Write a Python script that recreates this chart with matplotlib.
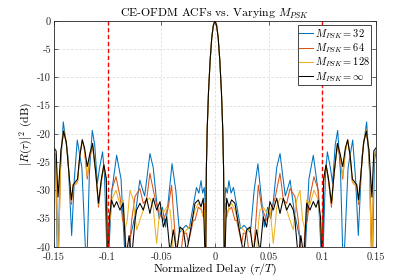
import matplotlib
matplotlib.use("Agg")
import matplotlib.pyplot as plt
import numpy as np

# ACF is symmetric: values are read for tau >= 0 and mirrored
lobe_tau = [0.0, 0.0015, 0.003, 0.0045, 0.006, 0.0072, 0.008]
lobe_db = [0.0, -0.8, -3.0, -7.0, -12.5, -19.0, -26.0]

blue_tau = [0.0085, 0.0100, 0.0115, 0.0130, 0.0150, 0.0172, 0.0205, 0.0240, 0.0270, 0.0300,
            0.0330, 0.0365, 0.0400, 0.0430, 0.0460, 0.0490, 0.0520, 0.0545, 0.0575, 0.0606,
            0.0635, 0.0655, 0.0672, 0.0700, 0.0740, 0.0785, 0.0830, 0.0875, 0.0916, 0.0960,
            0.1000, 0.1030, 0.1047, 0.1075, 0.1096, 0.1120, 0.1143, 0.1170, 0.1196, 0.1240,
            0.1283, 0.1310, 0.1335, 0.1370, 0.1413, 0.1445, 0.1465, 0.1485, 0.1500]
blue_db = [-34, -29.5, -30.5, -28.3, -30.5, -29.5, -33, -36.8, -36.2, -36.8,
           -37.5, -30, -25.3, -31, -36.5, -33, -35, -31.7, -26, -23.5,
           -28, -31, -30, -28.2, -34, -38, -45, -28, -23.8, -30,
           -45, -27, -23.2, -26, -28.8, -22, -19.4, -27, -45, -26,
           -21.1, -28, -38, -24, -17.9, -28, -45, -25, -23]

outer_tau = [0.1012, 0.1035, 0.1058, 0.1085, 0.1110, 0.1140, 0.1165, 0.1190, 0.1215, 0.1236,
             0.1260, 0.1280, 0.1300, 0.1320, 0.1338, 0.1360, 0.1385, 0.1410, 0.1435, 0.1462,
             0.1480, 0.1500]

orange_tau = [0.0088, 0.0099, 0.0109, 0.0124, 0.0155, 0.0186, 0.0202, 0.0248, 0.0264, 0.0295,
              0.0342, 0.0373, 0.0404, 0.0435, 0.0481, 0.0519, 0.0559, 0.0606, 0.0637, 0.0668,
              0.0699, 0.0745, 0.0776, 0.0817, 0.0839, 0.0860, 0.0885, 0.0922, 0.0963, 0.0990,
              0.1000]
orange_db = [-45, -32.3, -34.7, -33.5, -33, -35.3, -35.3, -39.4, -37.6, -37.6,
             -45, -37.6, -29.1, -33, -35.3, -34.1, -31.4, -27.0, -31.7, -32.3,
             -29.7, -31.1, -35.3, -45, -36.4, -35.3, -31.1, -27.6, -30, -38,
             -45]
orange_outer = [-28.5, -25.5, -28.5, -33, -27, -22.3, -24, -28, -23, -21,
                -24, -28.5, -29, -29, -32.5, -27, -21.5, -19.8, -23, -45,
                -23.5, -23.5]

yellow_tau = [0.0088, 0.0099, 0.0109, 0.0130, 0.0155, 0.0186, 0.0217, 0.0264, 0.0295, 0.0326,
              0.0357, 0.0388, 0.0404, 0.0419, 0.0450, 0.0481, 0.0512, 0.0543, 0.0559, 0.0575,
              0.0606, 0.0637, 0.0668, 0.0699, 0.0730, 0.0761, 0.0792, 0.0817, 0.0839, 0.0854,
              0.0885, 0.0922, 0.0963, 0.0990, 0.1000]
yellow_db = [-45, -33.5, -34.7, -33, -32.3, -33.5, -35.9, -37, -37.6, -36.5,
             -41, -41, -36, -33.5, -33, -34, -33, -39.4, -36.5, -33,
             -31.4, -31.7, -33.5, -35.3, -37, -31.7, -30, -35.3, -37, -31.7,
             -32.5, -30, -31.7, -38, -45]
yellow_outer = [-28, -25.5, -28, -32.5, -27, -22, -23.5, -27.5, -23, -21.2,
                -24, -28.5, -29, -29, -32, -27, -21.3, -19.3, -23, -45,
                -23.5, -23.5]

black_tau = [0.0087, 0.0109, 0.0130, 0.0155, 0.0186, 0.0217, 0.0264, 0.0295, 0.0326, 0.0357,
             0.0388, 0.0419, 0.0450, 0.0481, 0.0512, 0.0543, 0.0575, 0.0606, 0.0637, 0.0668,
             0.0699, 0.0730, 0.0745, 0.0776, 0.0800, 0.0829, 0.0854, 0.0885, 0.0916, 0.0941,
             0.0963, 0.0984, 0.1000]
black_db = [-45, -31.4, -32.9, -31.7, -32.3, -35.9, -41, -37, -36.5, -41,
            -37, -41, -34.7, -36.5, -32, -33.5, -31.4, -34.1, -31.4, -33.5,
            -32.3, -33.5, -35.3, -42, -38, -42, -32.3, -33.5, -32, -33,
            -31.7, -35, -45]
black_outer = [-28, -25.5, -28, -32.3, -27, -21.7, -23.5, -25.8, -22.5, -21.1,
               -24, -28, -28.5, -29, -31.7, -27, -21.5, -19.5, -23, -31.2,
               -23, -22.5]

labels = [r'$M_{PSK} = 32$', r'$M_{PSK} = 64$', r'$M_{PSK} = 128$', r'$M_{PSK} = \infty$']
colors = ['#0072BD', '#D95319', '#EDB120', '#000000']


def mirror(t, d):
    t = np.asarray(t)
    d = np.asarray(d)
    return np.concatenate([-t[::-1], t[1:]]), np.concatenate([d[::-1], d[1:]])


series = [
    (lobe_tau + blue_tau, lobe_db + blue_db),
    (lobe_tau + orange_tau + outer_tau, lobe_db + orange_db + orange_outer),
    (lobe_tau + yellow_tau + outer_tau, lobe_db + yellow_db + yellow_outer),
    (lobe_tau + black_tau + outer_tau, lobe_db + black_db + black_outer),
]

plt.rcParams['font.family'] = 'cmr10'
plt.rcParams['mathtext.fontset'] = 'cm'
plt.rcParams['axes.unicode_minus'] = False

fig = plt.figure(figsize=(4.15, 2.77), dpi=100)
ax = fig.add_axes([0.130, 0.109, 0.776, 0.816])

for (t, d), c, lab in zip(series, colors, labels):
    x, y = mirror(t, d)
    ax.plot(x, y, color=c, lw=0.75, label=lab)

for xv in (-0.1, 0.1):
    ax.axvline(xv, color='#FF0000', ls='--', lw=1.0, dashes=(3, 2))

xticks = [-0.15, -0.1, -0.05, 0, 0.05, 0.1, 0.15]
xtick_labels = ['-0.15', '-0.1', '-0.05', '0', '0.05', '0.1', '0.15']
yticks = [-40, -35, -30, -25, -20, -15, -10, -5, 0]
ytick_labels = ['-40', '-35', '-30', '-25', '-20', '-15', '-10', '-5', '0']

ax.set_xlim(-0.15, 0.15)
ax.set_ylim(-40, 0)
ax.set_xticks(xticks)
ax.set_xticklabels(xtick_labels)
ax.set_yticks(yticks)
ax.set_yticklabels(ytick_labels)
ax.tick_params(direction='in', top=True, right=True, length=3, width=0.5,
               labelsize=7.5, colors='#262626', pad=2)
ax.tick_params(axis='x', pad=4)
ax.grid(True, ls='--', color='#DCDCDC', lw=0.6, dashes=(3, 2))
for s in ax.spines.values():
    s.set_color('#262626')
    s.set_linewidth(0.6)

ax.set_title(r'CE-OFDM ACFs vs. Varying $M_{PSK}$', fontsize=8.5, pad=3)
ax.set_xlabel(r'Normalized Delay ($\tau/T$)', fontsize=8.5, labelpad=0)
ax.set_ylabel(r'$|R(\tau)|^2$ (dB)', fontsize=8.5, labelpad=2)

leg = ax.legend(loc='upper right', fontsize=7.5, handlelength=1.3, handletextpad=0.2,
                borderpad=0.15, labelspacing=0.05, borderaxespad=0.45, fancybox=False,
                framealpha=1)
leg.get_frame().set_edgecolor('#262626')
leg.get_frame().set_linewidth(0.6)

fig.savefig('out.png', dpi=100)
